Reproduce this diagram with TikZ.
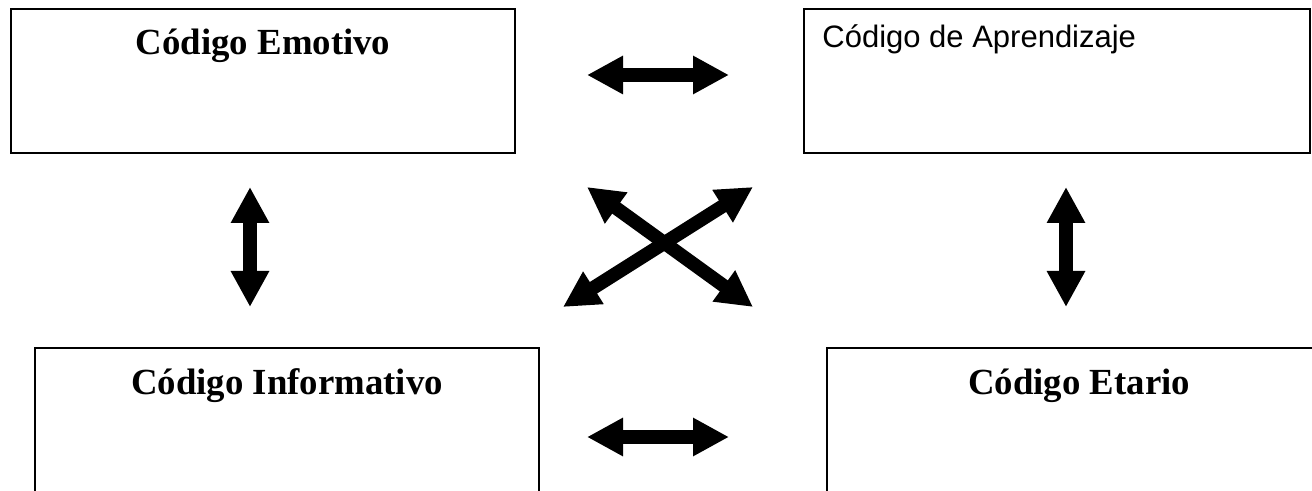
\documentclass[tikz,border=0pt]{standalone}
\usepackage{fontspec}
\setmainfont{Liberation Serif}
\newfontfamily\arialfont{Liberation Sans}
\usetikzlibrary{arrows.meta,positioning}

\tikzset{
  codebox/.style={draw, line width=1.1pt, minimum width=252pt, minimum height=72pt,
    anchor=north west, inner sep=0pt},
  codetitle/.style={font=\fontsize{18.4}{22}\selectfont\bfseries, inner sep=0pt, anchor=base},
  dblarrow/.style={line width=6.8pt,
    {Triangle[length=18pt,width=18pt]}-{Triangle[length=18pt,width=18pt]}}
}

\begin{document}
\begin{tikzpicture}[x=0.5pt,y=-0.5pt]
    \useasboundingbox (0,0) rectangle (1312,491);
    \clip (0,0) rectangle (1312,491);

    % Boxes
    \node[codebox] (emotivo) at (10,8) {};
    \node[codebox, minimum width=253pt] (aprend) at (803,8) {};
    \node[codebox] (inform) at (34,347) {};
    \node[codebox, minimum height=72.5pt] (etario) at (826,347) {};

    % Titles
    \node[codetitle] (emotivotxt) at ([yshift=-23.5pt]emotivo.north) {Código Emotivo};
    \node[inner sep=0pt, anchor=base west, font=\arialfont\fontsize{15.5}{18}\selectfont]
        (aprendtxt) at ([xshift=9.5pt,yshift=-20pt]aprend.north west) {Código de Aprendizaje};
    \node[codetitle] (informtxt) at ([yshift=-24pt]inform.north) {Código Informativo};
    \node[codetitle] (etariotxt) at ([yshift=-24pt]etario.north) {Código Etario};

    % Arrow ends
    \coordinate (topl) at (587,75);   \coordinate (topr) at (729,75);
    \coordinate (botl) at (587,437);  \coordinate (botr) at (729,437);
    \coordinate (leftt) at (250,187); \coordinate (leftb) at (250,307);
    \coordinate (rightt) at (1066,187); \coordinate (rightb) at (1066,307);
    \coordinate (nw) at (587,187);    \coordinate (se) at (753,307);
    \coordinate (sw) at (563,307);    \coordinate (ne) at (753,187);

    % Double arrows
    \draw[dblarrow] (topl) -- (topr);
    \draw[dblarrow] (botl) -- (botr);
    \draw[dblarrow] (leftt) -- (leftb);
    \draw[dblarrow] (rightt) -- (rightb);
    \draw[dblarrow] (nw) -- (se);
    \draw[dblarrow] (sw) -- (ne);
\end{tikzpicture}
\end{document}
